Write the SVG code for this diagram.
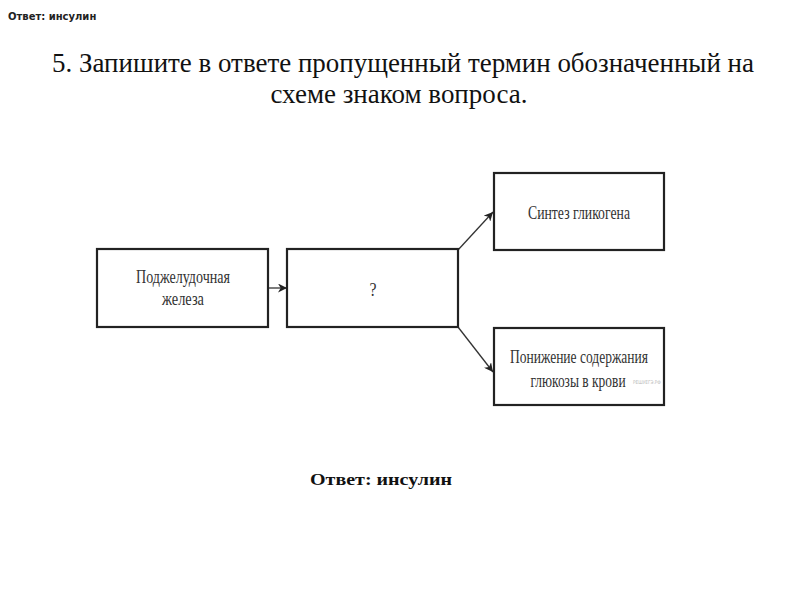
<svg xmlns="http://www.w3.org/2000/svg" width="800" height="600" viewBox="0 0 800 600">
<style>
.box{fill:#fff;stroke:#222;stroke-width:2.2}
.serif{font-family:"Liberation Serif","DejaVu Serif",serif}
.t{font-family:"Liberation Serif","DejaVu Serif",serif;fill:#333;font-size:18px}
.conn{stroke:#333;stroke-width:1.3;fill:none}
</style>
<defs>
<marker id="ah" viewBox="0 0 10 10" refX="10" refY="5" markerWidth="9" markerHeight="9" markerUnits="userSpaceOnUse" orient="auto">
<path d="M0,0 L10,5 L0,10 L3,5 Z" fill="#222"/>
</marker>
</defs>
<rect width="800" height="600" fill="#fff"/>
<text x="8" y="20" font-family="'DejaVu Sans',sans-serif" font-size="10" font-weight="bold" fill="#222">Ответ: инсулин</text>
<text class="serif" x="403" y="72" text-anchor="middle" font-size="27" fill="#111" textLength="702" lengthAdjust="spacingAndGlyphs">5. Запишите в ответе пропущенный термин обозначенный на</text>
<text class="serif" x="399" y="103" text-anchor="middle" font-size="27" fill="#111" textLength="257" lengthAdjust="spacingAndGlyphs">схеме знаком вопроса.</text>
<g id="connectors">
<line class="conn" x1="268" y1="288" x2="287" y2="288" marker-end="url(#ah)"/>
<line class="conn" x1="458" y1="250" x2="493" y2="212" marker-end="url(#ah)"/>
<line class="conn" x1="458" y1="327" x2="493" y2="372" marker-end="url(#ah)"/>
</g>
<g id="pancreas">
<rect class="box" x="97" y="249" width="171" height="78"/>
<text class="t" x="183" y="283" text-anchor="middle" textLength="94" lengthAdjust="spacingAndGlyphs">Поджелудочная</text>
<text class="t" x="183" y="305" text-anchor="middle" textLength="42" lengthAdjust="spacingAndGlyphs">железа</text>
</g>
<g id="unknown">
<rect class="box" x="287" y="249" width="171" height="78"/>
<text class="t" x="373" y="296" text-anchor="middle" textLength="7" lengthAdjust="spacingAndGlyphs">?</text>
</g>
<g id="glycogen">
<rect class="box" x="494" y="173" width="170" height="77"/>
<text class="t" x="579" y="219" text-anchor="middle" textLength="102" lengthAdjust="spacingAndGlyphs">Синтез гликогена</text>
</g>
<g id="glucose">
<rect class="box" x="494" y="328" width="170" height="77"/>
<text class="t" x="579" y="363" text-anchor="middle" textLength="138" lengthAdjust="spacingAndGlyphs">Понижение содержания</text>
<g transform="translate(578,387) scale(0.78,1)">
<text class="t" x="0" y="0" text-anchor="middle" textLength="122" lengthAdjust="spacingAndGlyphs">глюкозы в крови</text>
</g>
<text x="633" y="384" font-family="'DejaVu Sans',sans-serif" font-size="5" fill="#bbb" textLength="28" lengthAdjust="spacingAndGlyphs">РЕШУЕГЭ.РФ</text>
</g>
<text class="serif" x="310" y="485" font-size="16" font-weight="bold" fill="#111" textLength="142" lengthAdjust="spacingAndGlyphs">Ответ: инсулин</text>
</svg>
